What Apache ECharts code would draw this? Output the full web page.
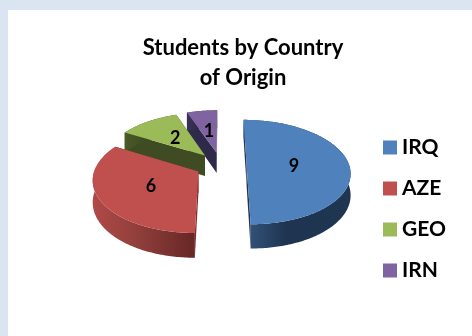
<!DOCTYPE html>
<html>
<head>
<meta charset="utf-8">
<style>
  html, body { margin: 0; padding: 0; background: #ffffff; }
  #chart { width: 472px; height: 336px; }
</style>
<script src="https://cdn.jsdelivr.net/npm/echarts@6/dist/echarts.min.js"></script>
</head>
<body>
<div id="chart"></div>
<script>
// Students per country of origin
const countries = ['IRQ', 'AZE', 'GEO', 'IRN'];
const studentCounts = [9, 6, 2, 1];

const chartTitle = 'Students by Country\nof Origin';
const fontFamily = 'Lato, "Noto Sans", sans-serif';

// Face, radial-wall and rim-gradient colours for each slice
const faceColors = ['#4f81bd', '#c0504d', '#9bbb59', '#8064a2'];
const wallColors = ['#1f3551', '#7a2f2d', '#3f4b22', '#2f2a4a'];
const rimStops = [
  ['#36577f', '#1e3450', '#1f3652'],
  ['#b04a47', '#93403d', '#662725'],
  ['#4a5a28', '#3f4b22', '#3f4b22'],
  ['#3a3158', '#2f2a4a', '#2f2a4a']
];

// Tilted-disc projection: a point on the unit disc maps to the screen with perspective
const view = { cx: 221, cy: 165, radius: 102.5, tilt: 0.5, perspective: 0.135, depth: 21, explode: 0.25 };

const total = studentCounts.reduce((sum, v) => sum + v, 0);

function project(u, v, lowered) {
  const s = 1 / (1 - view.perspective * v);
  return [
    view.cx + view.radius * u * s,
    view.cy + view.radius * view.tilt * v * s + (lowered ? view.depth * s : 0)
  ];
}

// Clockwise angle from twelve o'clock to a disc point
function polar(angle, r, origin) {
  return [origin[0] + r * Math.sin(angle), origin[1] - r * Math.cos(angle)];
}

function renderSlice(params, api) {
  const i = params.seriesIndex;
  const value = api.value(0);
  const before = studentCounts.slice(0, i).reduce((sum, v) => sum + v, 0);
  const a0 = before / total * Math.PI * 2;
  const a1 = a0 + value / total * Math.PI * 2;
  const mid = (a0 + a1) / 2;
  const apex = polar(mid, view.explode, [0, 0]);

  // Outer arc sampled along the rim
  const arc = [];
  const steps = Math.max(8, Math.round((a1 - a0) * 60));
  for (let k = 0; k <= steps; k++) {
    arc.push(polar(a0 + (a1 - a0) * k / steps, 1, apex));
  }
  const top = arc.map(p => project(p[0], p[1], false));
  const low = arc.map(p => project(p[0], p[1], true));
  const apexTop = project(apex[0], apex[1], false);
  const apexLow = project(apex[0], apex[1], true);
  const first = arc.length - 1;

  // Only the front-facing part of the rim carries the gradient
  const frontTop = [], frontLow = [];
  arc.forEach((p, k) => {
    if (p[1] >= apex[1] - 1 || i >= 2) { frontTop.push(top[k]); frontLow.push(low[k]); }
  });

  const children = [];
  children.push({
    type: 'polygon',
    shape: { points: [apexTop, top[first], low[first], apexLow] },
    style: { fill: wallColors[i] }
  });
  children.push({
    type: 'polygon',
    shape: { points: [apexTop, top[0], low[0], apexLow] },
    style: { fill: wallColors[i] }
  });
  if (frontTop.length > 1) {
    const stops = rimStops[i];
    children.push({
      type: 'polygon',
      shape: { points: frontTop.concat(frontLow.slice().reverse()) },
      style: {
        fill: new echarts.graphic.LinearGradient(0, 0, 1, 0, [
          { offset: 0, color: stops[0] },
          { offset: 0.4, color: stops[1] },
          { offset: 1, color: stops[2] }
        ])
      }
    });
  }
  children.push({
    type: 'polygon',
    shape: { points: [apexTop].concat(top) },
    style: { fill: faceColors[i] }
  });

  const labelPos = polar(mid, 0.5, apex);
  const at = project(labelPos[0], labelPos[1], false);
  children.push({
    type: 'text',
    style: {
      text: String(value),
      x: at[0] - (i === 0 ? 4 : 0),
      y: at[1] + 1,
      align: 'center',
      verticalAlign: 'middle',
      fill: '#000000',
      font: 'bold 18px ' + fontFamily
    }
  });
  return { type: 'group', children: children };
}

const chart = echarts.init(document.getElementById('chart'), null, { renderer: 'canvas' });
chart.setOption({
  animation: false,
  backgroundColor: '#dbe5f1',
  graphic: [{
    type: 'rect',
    silent: true,
    z: -10,
    shape: { x: 8, y: 10, width: 464, height: 326 },
    style: { fill: '#ffffff' }
  }],
  title: {
    text: chartTitle,
    left: 238,
    top: 28,
    textAlign: 'center',
    textStyle: {
      fontFamily: fontFamily,
      fontWeight: 'bold',
      fontSize: 22,
      lineHeight: 30,
      color: '#000000'
    }
  },
  legend: {
    orient: 'vertical',
    left: 383,
    top: 137,
    icon: 'rect',
    itemWidth: 14,
    itemHeight: 14,
    itemGap: 20,
    padding: 0,
    data: countries,
    textStyle: {
      fontFamily: fontFamily,
      fontWeight: 'bold',
      fontSize: 21,
      lineHeight: 20,
      color: '#000000',
      padding: [0, 0, 0, 0]
    }
  },
  series: countries.map((name, i) => ({
    type: 'custom',
    name: name,
    coordinateSystem: 'none',
    z: 5 - i,
    silent: true,
    itemStyle: { color: faceColors[i] },
    renderItem: renderSlice,
    data: [[studentCounts[i]]]
  }))
});
</script>
</body>
</html>
